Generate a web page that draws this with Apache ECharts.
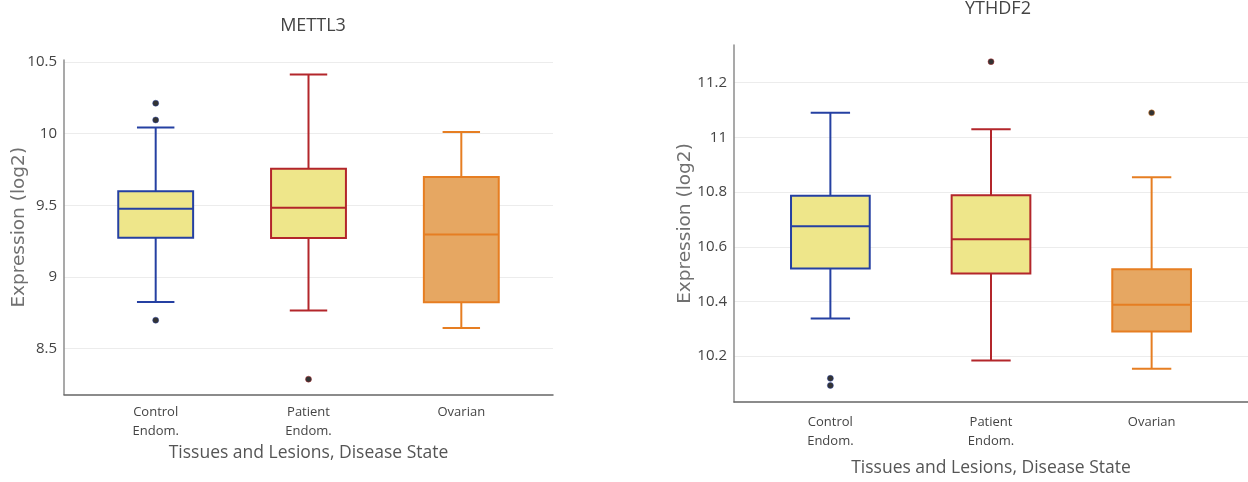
<!DOCTYPE html>
<html>
<head>
<meta charset="utf-8">
<script src="https://cdn.jsdelivr.net/npm/echarts@6/dist/echarts.min.js"></script>
<style>
  html, body { margin: 0; padding: 0; background: #fff; }
  #chart { width: 1248px; height: 482px; }
</style>
</head>
<body>
<div id="chart"></div>
<script>
// Groups along the x axis (index 0, 1, 2 on each panel)
const CATEGORIES = ['Control\nEndom.', 'Patient\nEndom.', 'Ovarian'];

// Box summaries per group: [lower whisker, Q1, median, Q3, upper whisker]
const METTL3_BOX = [
  [8.824, 9.273, 9.476, 9.598, 10.043],
  [8.765, 9.271, 9.483, 9.755, 10.413],
  [8.642, 8.822, 9.296, 9.698, 10.012]
];
const YTHDF2_BOX = [
  [10.338, 10.521, 10.675, 10.787, 11.090],
  [10.184, 10.502, 10.628, 10.789, 11.030],
  [10.154, 10.290, 10.388, 10.518, 10.854]
];

// Outliers: [group index, value]
const METTL3_OUTLIERS = [[0, 10.213], [0, 10.096], [0, 8.697], [1, 8.285]];
const YTHDF2_OUTLIERS = [[0, 10.119], [0, 10.093], [1, 11.277], [2, 11.090]];

// Tick labels on the expression axes
const METTL3_TICKS = [8.5, 9, 9.5, 10, 10.5];
const YTHDF2_TICKS = [10.2, 10.4, 10.6, 10.8, 11, 11.2];

// Per-group styling
const STROKES = ['#2540A2', '#B3262B', '#E67E22'];
const FILLS = ['#EEE68A', '#EEE68A', '#E6A762'];

const FONT = 'Open Sans';
const BOX_FRAC = 0.49;   // box width as a fraction of one group step

function renderBox(params, api) {
  const x = api.value(0);
  const lo = api.coord([x, api.value(1)]);
  const q1 = api.coord([x, api.value(2)]);
  const med = api.coord([x, api.value(3)]);
  const q3 = api.coord([x, api.value(4)]);
  const hi = api.coord([x, api.value(5)]);
  const w = api.size([BOX_FRAC, 0])[0];
  const cx = lo[0];
  const half = w / 2;
  const cap = w / 4;
  const stroke = STROKES[params.dataIndex];
  const fill = FILLS[params.dataIndex];
  const lineStyle = { stroke: stroke, lineWidth: 2, fill: null };
  return {
    type: 'group',
    children: [
      { type: 'line', shape: { x1: cx, y1: q3[1], x2: cx, y2: hi[1] }, style: lineStyle },
      { type: 'line', shape: { x1: cx, y1: q1[1], x2: cx, y2: lo[1] }, style: lineStyle },
      { type: 'line', shape: { x1: cx - cap, y1: hi[1], x2: cx + cap, y2: hi[1] }, style: lineStyle },
      { type: 'line', shape: { x1: cx - cap, y1: lo[1], x2: cx + cap, y2: lo[1] }, style: lineStyle },
      { type: 'rect', shape: { x: cx - half, y: q3[1], width: w, height: q1[1] - q3[1] },
        style: { fill: fill, stroke: stroke, lineWidth: 2 } },
      { type: 'line', shape: { x1: cx - half, y1: med[1], x2: cx + half, y2: med[1] }, style: lineStyle }
    ]
  };
}

function boxData(rows) {
  return rows.map((r, i) => [i].concat(r));
}

function outlierData(rows) {
  return rows.map(p => ({
    value: p,
    itemStyle: { color: '#000', borderColor: STROKES[p[0]], borderWidth: 0.6 }
  }));
}

function xAxisFor(gridIndex, nameGap, labelMargin) {
  return {
    type: 'value', gridIndex: gridIndex, min: -0.6, max: 2.6,
    name: 'Tissues and Lesions, Disease State', nameLocation: 'middle', nameGap: nameGap,
    nameMoveOverlap: false,
    nameTextStyle: { fontFamily: FONT, fontSize: 17.5, color: '#555' },
    axisLine: { show: true, onZero: false, lineStyle: { color: '#666', width: 1.5 } },
    axisTick: { show: false, customValues: [0, 1, 2] },
    splitLine: { show: false },
    axisLabel: {
      customValues: [0, 1, 2], margin: labelMargin,
      formatter: v => CATEGORIES[Math.round(v)],
      fontFamily: FONT, fontSize: 13, color: '#444', lineHeight: 19
    }
  };
}

function yAxisFor(gridIndex, min, max, ticks, nameGap) {
  return {
    type: 'value', gridIndex: gridIndex, min: min, max: max,
    name: 'Expression (log2)', nameLocation: 'middle', nameGap: nameGap,
    nameMoveOverlap: false,
    nameTextStyle: { fontFamily: 'DejaVu Sans', fontSize: 18.5, color: '#707070' },
    axisLine: { show: true, onZero: false, lineStyle: { color: '#8c8c8c', width: 1.5 } },
    axisTick: { show: false, customValues: ticks },
    splitLine: { show: true, lineStyle: { color: '#ececec', width: 1 } },
    axisLabel: {
      customValues: ticks, margin: 7,
      formatter: v => String(v),
      fontFamily: FONT, fontSize: 15, color: '#444'
    }
  };
}

const chart = echarts.init(document.getElementById('chart'), null, { renderer: 'canvas' });

chart.setOption({
  animation: false,
  backgroundColor: '#fff',
  title: [
    { text: 'METTL3', left: 308, top: 12, textAlign: 'center',
      textStyle: { fontFamily: FONT, fontSize: 18, fontWeight: 'normal', color: '#444' } },
    { text: 'YTHDF2', left: 993, top: -5, textAlign: 'center',
      textStyle: { fontFamily: FONT, fontSize: 18, fontWeight: 'normal', color: '#444' } }
  ],
  grid: [
    { left: 64, top: 60, width: 489, height: 334.5 },
    { left: 734, top: 45, width: 518, height: 361.7 }
  ],
  xAxis: [xAxisFor(0, 50, 8), xAxisFor(1, 57, 11)],
  yAxis: [
    yAxisFor(0, 8.178, 10.515, METTL3_TICKS, 35),
    yAxisFor(1, 10.0325, 11.338, YTHDF2_TICKS, 39)
  ],
  series: [
    { type: 'custom', xAxisIndex: 0, yAxisIndex: 0, renderItem: renderBox,
      encode: { x: 0, y: [1, 2, 3, 4, 5] }, data: boxData(METTL3_BOX), z: 2 },
    { type: 'scatter', xAxisIndex: 0, yAxisIndex: 0, symbolSize: 6,
      data: outlierData(METTL3_OUTLIERS), z: 3 },
    { type: 'custom', xAxisIndex: 1, yAxisIndex: 1, renderItem: renderBox,
      encode: { x: 0, y: [1, 2, 3, 4, 5] }, data: boxData(YTHDF2_BOX), z: 2 },
    { type: 'scatter', xAxisIndex: 1, yAxisIndex: 1, symbolSize: 6,
      data: outlierData(YTHDF2_OUTLIERS), z: 3 }
  ]
});
</script>
</body>
</html>
